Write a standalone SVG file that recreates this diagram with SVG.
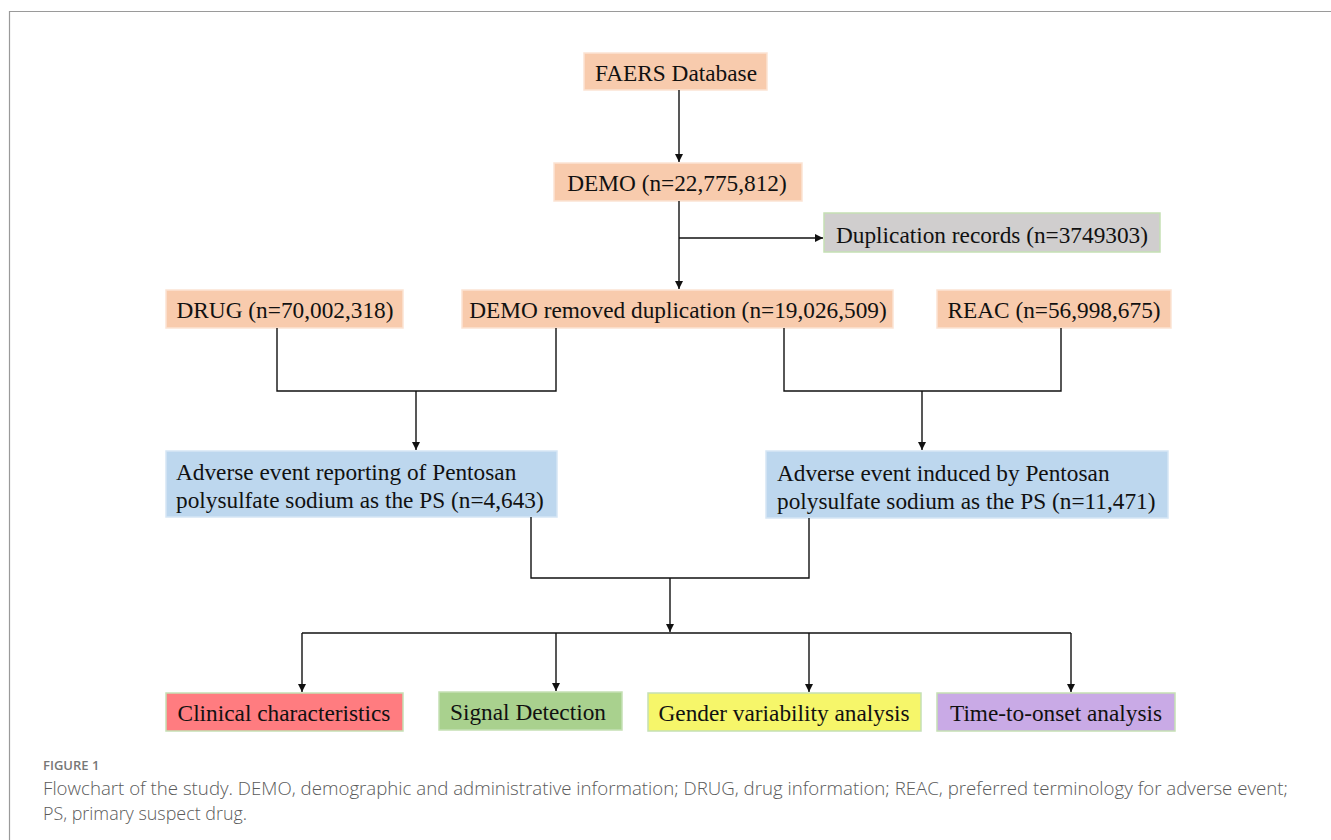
<svg xmlns="http://www.w3.org/2000/svg" width="1331" height="840" viewBox="0 0 1331 840">
<style>
.t{font-family:"Liberation Serif","Times New Roman",serif;font-size:23.3px;fill:#111}
.c{text-anchor:middle}
.peach{fill:#f8cbad;stroke:#fbe3d3;stroke-width:1.5}
.blue{fill:#bdd7ee;stroke:#d6e6f5;stroke-width:1.5}
.gb{stroke:#c5e0b4;stroke-width:1.5}
.ln{fill:none;stroke:#111;stroke-width:1.4}
.cap{font-family:"Open Sans","Noto Sans",sans-serif;fill:#5a5a5a;font-weight:300}
.fig{font-family:"Open Sans","Noto Sans",sans-serif;fill:#777;font-weight:600;font-size:13px}
</style>
<defs>
<marker id="ah" viewBox="0 0 10 10" refX="10" refY="5" markerWidth="8" markerHeight="8" markerUnits="userSpaceOnUse" orient="auto">
<path d="M0,0 L10,5 L0,10 Z" fill="#111"/>
</marker>
</defs>
<rect width="1331" height="840" fill="#fff"/>
<path d="M9.5,840 V11.5 H1331" fill="none" stroke="#9a9a9a" stroke-width="1.2"/>

<g id="faers"><rect class="peach" x="584" y="53" width="183" height="37"/><text class="t c" x="676" y="81">FAERS Database</text></g>
<g id="demo"><rect class="peach" x="554" y="163" width="248" height="38"/><text class="t c" x="677" y="191">DEMO (n=22,775,812)</text></g>
<g id="dup"><rect class="gb" fill="#d0cece" x="824" y="213" width="336" height="39"/><text class="t c" x="992" y="243">Duplication records (n=3749303)</text></g>
<g id="drug"><rect class="peach" x="166" y="290" width="237" height="38"/><text class="t c" x="285" y="318">DRUG (n=70,002,318)</text></g>
<g id="demorem"><rect class="peach" x="462" y="290" width="431" height="38"/><text class="t c" x="678" y="318">DEMO removed duplication (n=19,026,509)</text></g>
<g id="reac"><rect class="peach" x="937" y="290" width="234" height="38"/><text class="t c" x="1054" y="318">REAC (n=56,998,675)</text></g>
<g id="ae1"><rect class="blue" x="166" y="451" width="391" height="66"/><text class="t" x="176" y="480">Adverse event reporting of Pentosan</text><text class="t" x="176" y="508">polysulfate sodium as the PS (n=4,643)</text></g>
<g id="ae2"><rect class="blue" x="766" y="451" width="402" height="67"/><text class="t" x="777" y="481">Adverse event induced by Pentosan</text><text class="t" x="777" y="509">polysulfate sodium as the PS (n=11,471)</text></g>
<g id="clin"><rect class="gb" fill="#ff7c80" x="166" y="693" width="237" height="38"/><text class="t c" x="284" y="721">Clinical characteristics</text></g>
<g id="sig"><rect class="gb" fill="#a9d18e" x="439" y="692" width="183" height="38"/><text class="t c" x="528" y="720">Signal Detection</text></g>
<g id="gender"><rect class="gb" fill="#f6f66a" x="648" y="693" width="273" height="38"/><text class="t c" x="784" y="721">Gender variability analysis</text></g>
<g id="tto"><rect class="gb" fill="#c9aae6" x="937" y="693" width="238" height="38"/><text class="t c" x="1056" y="721">Time-to-onset analysis</text></g>

<g id="connectors">
<path class="ln" d="M679,90 V162" marker-end="url(#ah)"/>
<path class="ln" d="M679,201 V289" marker-end="url(#ah)"/>
<path class="ln" d="M679,238 H823" marker-end="url(#ah)"/>
<path class="ln" d="M277,328 V391 H556 V328"/>
<path class="ln" d="M416,391 V450" marker-end="url(#ah)"/>
<path class="ln" d="M784,328 V391 H1061 V328"/>
<path class="ln" d="M922,391 V450" marker-end="url(#ah)"/>
<path class="ln" d="M531,517 V578 H809 V518"/>
<path class="ln" d="M670,578 V632" marker-end="url(#ah)"/>
<path class="ln" d="M302,633 H1071"/>
<path class="ln" d="M302,633 V692" marker-end="url(#ah)"/>
<path class="ln" d="M556,633 V691" marker-end="url(#ah)"/>
<path class="ln" d="M809,633 V692" marker-end="url(#ah)"/>
<path class="ln" d="M1071,633 V692" marker-end="url(#ah)"/>
</g>

<text class="fig" x="43" y="770">FIGURE 1</text>
<text class="cap" x="43" y="795" font-size="17.9" textLength="1245" lengthAdjust="spacingAndGlyphs">Flowchart of the study. DEMO, demographic and administrative information; DRUG, drug information; REAC, preferred terminology for adverse event;</text>
<text class="cap" x="43" y="820" font-size="17.9">PS, primary suspect drug.</text>
</svg>
